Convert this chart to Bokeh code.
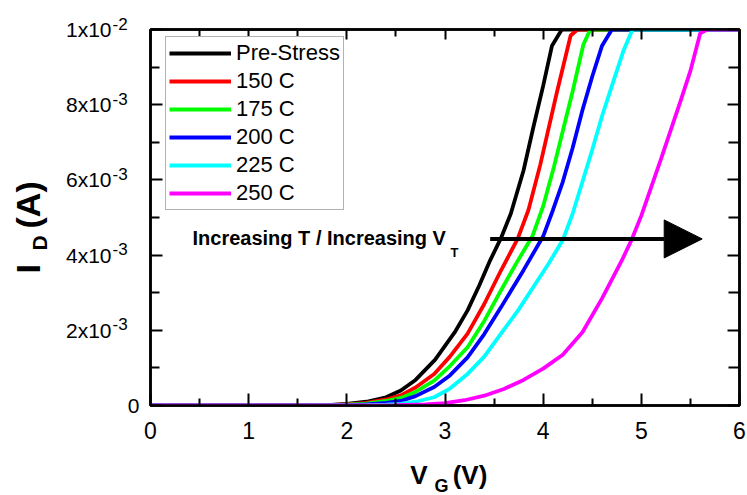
import numpy as np
from bokeh.plotting import figure
from bokeh.layouts import row, column
from bokeh.models import (Range1d, LinearAxis, FixedTicker, Label, Arrow, NormalHead)
from bokeh.core.properties import value
from bokeh.embed import file_html
from bokeh.resources import INLINE

# ---------------- data (I_D in mA) ----------------
series_names = ["Pre-Stress", "150 C", "175 C", "200 C", "225 C", "250 C"]
series_colors = ["#000000", "#ff0000", "#00ff00", "#0000ff", "#00ffff", "#ff00ff"]

vg_pre = [0, 1.5, 1.8, 2.0, 2.2, 2.4, 2.55, 2.7, 2.9, 3.1, 3.23, 3.35, 3.46, 3.57, 3.67, 3.8, 3.9, 4.0, 4.09, 4.19, 6.0]
id_pre = [0, 0, 0.01, 0.04, 0.1, 0.22, 0.40, 0.68, 1.22, 1.95, 2.53, 3.2, 3.86, 4.45, 5.1, 6.25, 7.4, 8.5, 9.57, 10, 10]

vg_150 = [0, 1.5, 1.8, 2.0, 2.2, 2.4, 2.55, 2.7, 2.89, 3.05, 3.23, 3.4, 3.57, 3.74, 3.85, 3.97, 4.14, 4.28, 4.35, 6.0]
id_150 = [0, 0, 0.008, 0.03, 0.07, 0.16, 0.27, 0.48, 0.84, 1.3, 1.91, 2.7, 3.59, 4.43, 5.2, 6.4, 8.33, 9.84, 10, 10]

vg_175 = [0, 1.5, 1.8, 2.0, 2.2, 2.4, 2.55, 2.7, 2.89, 3.05, 3.23, 3.4, 3.57, 3.73, 3.89, 4.0, 4.11, 4.2, 4.3, 4.41, 4.48, 6.0]
id_175 = [0, 0, 0.006, 0.02, 0.05, 0.12, 0.2, 0.36, 0.66, 1.05, 1.55, 2.25, 3.06, 3.8, 4.5, 5.3, 6.35, 7.3, 8.35, 9.6, 10, 10]

vg_200 = [0, 1.5, 1.8, 2.0, 2.2, 2.4, 2.55, 2.7, 2.89, 3.05, 3.23, 3.4, 3.57, 3.8, 4.0, 4.1, 4.2, 4.3, 4.4, 4.5, 4.6, 4.7, 6.0]
id_200 = [0, 0, 0.004, 0.012, 0.03, 0.07, 0.12, 0.25, 0.49, 0.8, 1.28, 1.9, 2.61, 3.6, 4.5, 5.2, 5.95, 6.85, 7.85, 8.75, 9.57, 10, 10]

vg_225 = [0, 1.5, 2.0, 2.2, 2.4, 2.55, 2.7, 2.89, 3.05, 3.23, 3.4, 3.57, 3.75, 3.9, 4.05, 4.2, 4.3, 4.4, 4.5, 4.6, 4.7, 4.82, 4.91, 6.0]
id_225 = [0, 0, 0.005, 0.012, 0.025, 0.04, 0.1, 0.22, 0.45, 0.84, 1.3, 1.91, 2.55, 3.15, 3.75, 4.4, 5.1, 5.95, 6.8, 7.7, 8.5, 9.45, 10, 10]

vg_250 = [0, 2.5, 2.8, 3.0, 3.2, 3.4, 3.6, 3.8, 4.0, 4.2, 4.4, 4.6, 4.8, 4.9, 5.0, 5.2, 5.4, 5.5, 5.6, 5.67, 6.0]
id_250 = [0, 0.01, 0.03, 0.06, 0.14, 0.26, 0.44, 0.68, 0.98, 1.35, 1.95, 2.85, 3.85, 4.4, 5.05, 6.55, 8.1, 8.9, 9.9, 10, 10]

series_vg = [vg_pre, vg_150, vg_175, vg_200, vg_225, vg_250]
series_id = [id_pre, id_150, id_175, id_200, id_225, id_250]

x_ticks = [0, 1, 2, 3, 4, 5, 6]
x_minor = [0.5, 1.5, 2.5, 3.5, 4.5, 5.5]
y_ticks = [0, 0.002, 0.004, 0.006, 0.008, 0.01]
y_minor = [0.001, 0.003, 0.005, 0.007, 0.009]
y_tick_main = ["0", "2x10", "4x10", "6x10", "8x10", "1x10"]
y_tick_sup = ["", "-3", "-3", "-3", "-3", "-2"]

arrow_y = 4.43e-3
arrow_x0, arrow_x1 = 3.46, 5.62

FONT = "Liberation Sans"
PX = 0.01 / 376.0      # y data units per screen pixel (frame is 376 px tall)
XPX = 6.0 / 589.0      # x data units per screen pixel (frame is 589 px wide)

# ---------------- main plot ----------------
p = figure(width=607, height=455, output_backend="svg", toolbar_location=None,
           x_range=Range1d(0, 6), y_range=Range1d(0, 0.01),
           min_border_left=10, min_border_right=8, min_border_top=29, min_border_bottom=50,
           x_axis_type=None, y_axis_type=None)
p.outline_line_color = "black"
p.outline_line_width = 2.5
p.background_fill_color = "white"
p.border_fill_color = "white"

def style_axis(ax, major_in, minor_in):
    ax.axis_line_color = "black"
    ax.axis_line_width = 2.5
    ax.major_tick_in = major_in
    ax.major_tick_out = 0
    ax.minor_tick_in = minor_in
    ax.minor_tick_out = 0
    ax.major_tick_line_width = 2
    ax.minor_tick_line_width = 2
    ax.major_tick_line_color = "black"
    ax.minor_tick_line_color = "black"

xb = LinearAxis(ticker=FixedTicker(ticks=x_ticks, minor_ticks=x_minor))
style_axis(xb, 12, 7)
xb.major_label_text_font = FONT
xb.major_label_text_font_size = "23px"
xb.major_label_text_color = "black"
xb.major_label_standoff = 16
p.add_layout(xb, "below")

xt = LinearAxis(ticker=FixedTicker(ticks=x_ticks, minor_ticks=x_minor))
style_axis(xt, 10, 7)
xt.major_label_overrides = {t: "" for t in x_ticks}
xt.major_label_standoff = 0
p.add_layout(xt, "above")

yl = LinearAxis(ticker=FixedTicker(ticks=y_ticks, minor_ticks=y_minor))
style_axis(yl, 12, 9)
yl.major_label_overrides = {t: "" for t in y_ticks}
yl.major_label_standoff = 0
p.add_layout(yl, "left")

yr = LinearAxis(ticker=FixedTicker(ticks=y_ticks, minor_ticks=y_minor))
style_axis(yr, 12, 11)
yr.major_label_overrides = {t: "" for t in y_ticks}
yr.major_label_standoff = 0
p.add_layout(yr, "right")

for name, col, vg, idm in zip(series_names, series_colors, series_vg, series_id):
    p.line(vg, np.array(idm) * 1e-3, line_color=col, line_width=3.8, legend_label=name)

leg = p.legend[0]
leg.location = (15, 195)
leg.border_line_color = "#666666"
leg.border_line_width = 1
leg.background_fill_color = "white"
leg.background_fill_alpha = 1
leg.glyph_width = 62
leg.glyph_height = 26
leg.label_height = 26
leg.spacing = 2
leg.padding = 3
leg.margin = 0
leg.label_standoff = 5
leg.label_text_font = FONT
leg.label_text_font_size = "22px"
leg.label_text_color = "black"

p.add_layout(Label(x=0.428, y=(405 - 237) * PX, text="Increasing T / Increasing V", text_align="left",
                   text_baseline="middle", text_font=FONT, text_font_style="bold",
                   text_font_size="20px", text_color="black"))
p.add_layout(Label(x=3.056, y=(405 - 252) * PX, text="T", text_align="left",
                   text_baseline="middle", text_font=FONT, text_font_style="bold",
                   text_font_size="13px", text_color="black"))

p.add_layout(Arrow(x_start=arrow_x0, y_start=arrow_y, x_end=arrow_x1, y_end=arrow_y,
                   line_width=4, line_color="black",
                   end=NormalHead(size=38, fill_color="black", line_color="black", line_width=1)))

# ---------------- left strip: y tick labels and y axis label ----------------
pl = figure(width=140, height=495, output_backend="svg", toolbar_location=None,
            x_range=Range1d(0, 140), y_range=Range1d(-90 * PX, 0.01 + 29 * PX),
            min_border=0, x_axis_type=None, y_axis_type=None)
pl.outline_line_color = None
pl.background_fill_color = "white"
pl.border_fill_color = "white"

main_x = [139 if s == "" else 111 for s in y_tick_sup]
pl.text(x=main_x, y=y_ticks, text=y_tick_main, text_align="right", text_baseline="middle",
        text_font=value(FONT), text_font_size="21px", text_color="black")
sup_ticks = [t for t, s in zip(y_ticks, y_tick_sup) if s]
sup_text = [s for s in y_tick_sup if s]
pl.text(x=[112] * len(sup_ticks), y=[t + 6 * PX for t in sup_ticks], text=sup_text,
        text_align="left", text_baseline="middle",
        text_font=value(FONT), text_font_size="17px", text_color="black")

pl.text(x=[27, 27], y=[(405 - 273) * PX, (405 - 228) * PX], text=["I", "(A)"], angle=np.pi / 2,
        text_align="left", text_baseline="middle", text_font=value(FONT),
        text_font_style="bold", text_font_size="34px", text_color="black")
pl.text(x=[39], y=[(405 - 250) * PX], text=["D"], angle=np.pi / 2,
        text_align="left", text_baseline="middle", text_font=value(FONT),
        text_font_style="bold", text_font_size="21px", text_color="black")

# ---------------- bottom strip: x axis label ----------------
pb = figure(width=607, height=40, output_backend="svg", toolbar_location=None,
            x_range=Range1d(-10 * XPX, 597 * XPX), y_range=Range1d(495, 455),
            min_border=0, x_axis_type=None, y_axis_type=None)
pb.outline_line_color = None
pb.background_fill_color = "white"
pb.border_fill_color = "white"
pb.text(x=[2.625, 3.07], y=[474, 474], text=["V", "(V)"], text_align="left",
        text_baseline="middle", text_font=value(FONT), text_font_style="bold",
        text_font_size="26px", text_color="black")
pb.text(x=[2.88], y=[485], text=["G"], text_align="left",
        text_baseline="middle", text_font=value(FONT), text_font_style="bold",
        text_font_size="18px", text_color="black")

layout = row(pl, column(p, pb, spacing=0), spacing=0)
open("out.html", "w").write(file_html(layout, INLINE))
